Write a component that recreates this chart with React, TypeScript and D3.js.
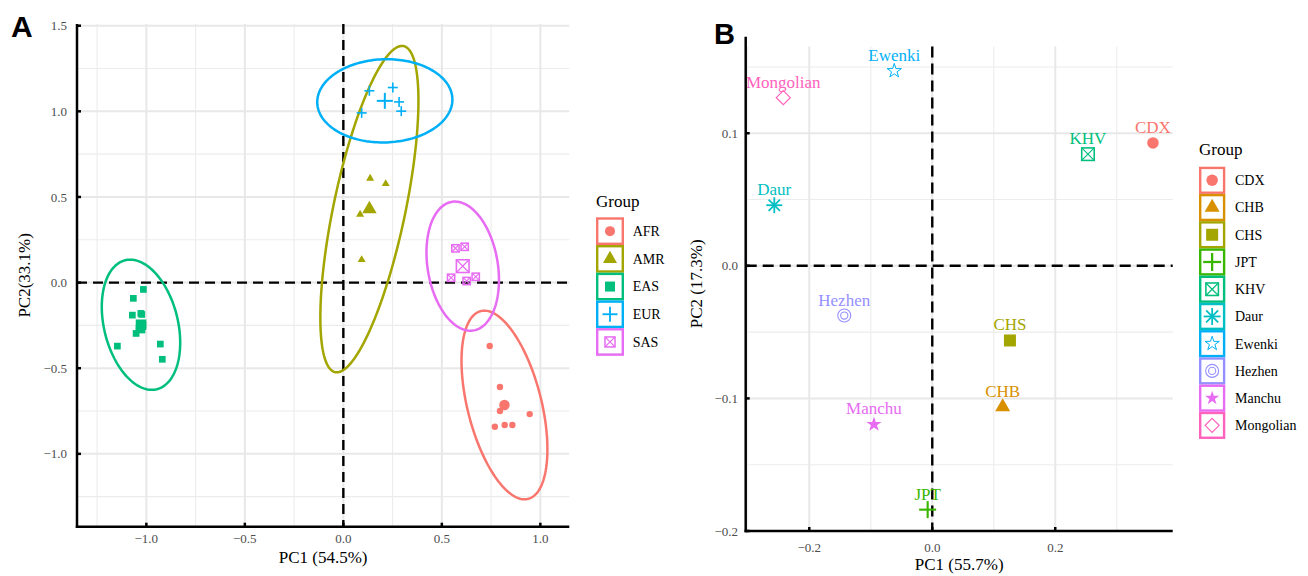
import React from "react";
import * as d3 from "d3";

// ---------- Panel A data ----------
const groupsA = ["AFR", "AMR", "EAS", "EUR", "SAS"];
const colorsA = ["#F8766D", "#A3A500", "#00BF7D", "#00B0F6", "#E76BF3"];
const shapesA = ["circle", "triangle", "square", "plus", "squarecross"];

const afrPoints = [[0.743, -0.37], [0.795, -0.61], [0.795, -0.75], [0.946, -0.768], [0.769, -0.842], [0.819, -0.832], [0.858, -0.832]];
const amrPoints = [[0.136, 0.608], [0.215, 0.577], [0.085, 0.398], [0.093, 0.133]];
const easPoints = [[-1.015, -0.04], [-1.066, -0.092], [-1.071, -0.19], [-1.028, -0.18], [-1.023, -0.186], [-1.052, -0.297], [-1.147, -0.371], [-0.929, -0.359], [-0.919, -0.448], [-1.017, -0.248], [-1.037, -0.266], [-1.022, -0.277]];
const eurPoints = [[0.132, 1.12], [0.251, 1.139], [0.283, 1.055], [0.294, 1.001], [0.093, 0.991]];
const sasPoints = [[0.569, 0.2], [0.616, 0.209], [0.547, 0.028], [0.626, 0.009], [0.672, 0.034]];
const pointsA = [afrPoints, amrPoints, easPoints, eurPoints, sasPoints];

// ellipse spread per group: [sd PC1, sd PC2, correlation]
const ellipseSpreadA = [[0.218, 0.551, -0.468], [0.249, 0.953, 0.664], [0.199, 0.38, -0.275], [0.343, 0.243, 0.03], [0.184, 0.377, -0.212]];

const xTicksA = [-1, -0.5, 0, 0.5, 1];
const yTicksA = [-1, -0.5, 0, 0.5, 1, 1.5];
const xMinorA = [-1.25, -0.75, -0.25, 0.25, 0.75];
const yMinorA = [-1.25, -0.75, -0.25, 0.25, 0.75, 1.25];

// ---------- Panel B data ----------
const popsB = ["CDX", "CHB", "CHS", "JPT", "KHV", "Daur", "Ewenki", "Hezhen", "Manchu", "Mongolian"];
const pc1B = [0.3589, 0.1145, 0.1263, -0.0075, 0.2532, -0.2569, -0.0618, -0.1431, -0.0948, -0.2423];
const pc2B = [0.0927, -0.1065, -0.0563, -0.1839, 0.0842, 0.0457, 0.147, -0.0375, -0.1196, 0.1268];
const colorsB = ["#F8766D", "#D89000", "#A3A500", "#39B600", "#00BF7D", "#00BFC4", "#00B0F6", "#9590FF", "#E76BF3", "#FF62BC"];
const shapesB = ["circle", "triangle", "square", "plus", "squarecross", "asterisk", "staropen", "doublecircle", "starfilled", "diamond"];

const xTicksB = [-0.2, 0, 0.2];
const yTicksB = [-0.2, -0.1, 0, 0.1];
const xMinorB = [-0.3, -0.1, 0.1, 0.3];
const yMinorB = [-0.15, -0.05, 0.05, 0.15];

const SERIF = "'Liberation Serif', 'Times New Roman', serif";
const SANS = "'Liberation Sans', Arial, sans-serif";
const fmt = (v: number, d: number) => (v < -1e-9 ? "\u2212" : "") + Math.abs(v).toFixed(d);

function starPath(R: number) {
  const r = R * 0.382;
  const pts: string[] = [];
  for (let i = 0; i < 10; i++) {
    const a = -Math.PI / 2 + (i * Math.PI) / 5;
    const rr = i % 2 === 0 ? R : r;
    pts.push(`${(rr * Math.cos(a)).toFixed(2)},${(rr * Math.sin(a)).toFixed(2)}`);
  }
  return "M" + pts.join("L") + "Z";
}

function Marker({ shape, x, y, s, color }: any) {
  const t = `translate(${x},${y})`;
  switch (shape) {
    case "circle":
      return <circle cx={x} cy={y} r={s / 2} fill={color} />;
    case "triangle": {
      const h = s / Math.sqrt(3);
      return <path transform={t} d={`M0,${-h}L${s / 2},${h / 2}L${-s / 2},${h / 2}Z`} fill={color} />;
    }
    case "square":
      return <rect x={x - s / 2} y={y - s / 2} width={s} height={s} fill={color} />;
    case "plus":
      return (
        <g transform={t} stroke={color} strokeWidth={Math.max(1.6, s / 8)}>
          <line x1={-s / 2} x2={s / 2} y1={0} y2={0} />
          <line x1={0} x2={0} y1={-s / 2} y2={s / 2} />
        </g>
      );
    case "squarecross":
      return (
        <g transform={t} stroke={color} strokeWidth={Math.max(1.5, s / 8)} fill="none">
          <rect x={-s / 2} y={-s / 2} width={s} height={s} />
          <line x1={-s / 2} y1={-s / 2} x2={s / 2} y2={s / 2} strokeWidth={1.2} />
          <line x1={-s / 2} y1={s / 2} x2={s / 2} y2={-s / 2} strokeWidth={1.2} />
        </g>
      );
    case "asterisk": {
      const a = s / 2;
      const d = a * Math.SQRT1_2;
      return (
        <g transform={t} stroke={color} strokeWidth={1.8}>
          <line x1={-a} x2={a} y1={0} y2={0} />
          <line x1={0} x2={0} y1={-a} y2={a} />
          <line x1={-d} y1={-d} x2={d} y2={d} />
          <line x1={-d} y1={d} x2={d} y2={-d} />
        </g>
      );
    }
    case "staropen":
      return <path transform={t} d={starPath(s / 2)} fill="none" stroke={color} strokeWidth={1} />;
    case "starfilled":
      return <path transform={t} d={starPath(s / 2)} fill={color} />;
    case "doublecircle":
      return (
        <g stroke={color} strokeWidth={1.1} fill="none">
          <circle cx={x} cy={y} r={s / 2} />
          <circle cx={x} cy={y} r={s / 3.6} />
        </g>
      );
    case "diamond": {
      const a = s / 2;
      return <path transform={t} d={`M0,${-a}L${a},0L0,${a}L${-a},0Z`} fill="none" stroke={color} strokeWidth={1.2} />;
    }
  }
  return null;
}

export default function App() {
  // ---------- scales ----------
  const xA = d3.scaleLinear().domain([-1.352, 1.147]).range([77, 569.3]);
  const yA = d3.scaleLinear().domain([-1.4255, 1.51]).range([526.7, 24]);
  const xB = d3.scaleLinear().domain([-0.3034, 0.391]).range([745.7, 1172.7]);
  const yB = d3.scaleLinear().domain([-0.2, 0.1728]).range([531, 36.7]);
  const gridTopB = yB(0.1654);

  const centroids = pointsA.map((pts) => [d3.mean(pts, (p) => p[0]) as number, d3.mean(pts, (p) => p[1]) as number]);

  const ellipsePaths = centroids.map((c, i) => {
    const [sx, sy, rho] = ellipseSpreadA[i];
    const line = d3
      .line<number>()
      .x((t) => xA(c[0] + sx * Math.cos(t)))
      .y((t) => yA(c[1] + rho * sy * Math.cos(t) + sy * Math.sqrt(1 - rho * rho) * Math.sin(t)))
      .curve(d3.curveLinearClosed);
    return line(d3.range(0, 2 * Math.PI, Math.PI / 90));
  });

  const [ax0, ax1] = xA.range();
  const [ay0, ay1] = yA.range();
  const [bx0, bx1] = xB.range();
  const [by0] = yB.range();

  const smallSizeA = [6.4, 8, 6.7, 10, 7.3];
  const bigSizeA = [10.5, 14.5, 10.5, 16, 12.7];
  const legendSizeA = [10, 14, 10, 15, 10];
  const sizeB = [11.5, 15, 12, 17, 12.5, 16, 15, 13, 16, 14];
  const legendSizeB = [11.5, 15, 12, 18, 12.5, 17, 15, 13, 15, 14];

  return (
    <svg width={1308} height={576} style={{ position: "absolute", left: 0, top: 0, background: "#fff" }}>
      <rect width={1308} height={576} fill="#fff" />
      {/* ================= Panel A ================= */}
      <g>
        {xMinorA.map((v) => (
          <line key={"xma" + v} x1={xA(v)} x2={xA(v)} y1={ay1} y2={ay0} stroke="#ececec" strokeWidth={1.1} />
        ))}
        {yMinorA.map((v) => (
          <line key={"yma" + v} x1={ax0} x2={ax1} y1={yA(v)} y2={yA(v)} stroke="#ececec" strokeWidth={1.1} />
        ))}
        {xTicksA.map((v) => (
          <line key={"xga" + v} x1={xA(v)} x2={xA(v)} y1={ay1} y2={ay0} stroke="#e8e8e8" strokeWidth={2} />
        ))}
        {yTicksA.map((v) => (
          <line key={"yga" + v} x1={ax0} x2={ax1} y1={yA(v)} y2={yA(v)} stroke="#e8e8e8" strokeWidth={2} />
        ))}
        <line x1={xA(0)} x2={xA(0)} y1={ay1} y2={ay0} stroke="#000" strokeWidth={2.4} strokeDasharray="10,6" />
        <line x1={ax0} x2={ax1} y1={yA(0)} y2={yA(0)} stroke="#000" strokeWidth={2.4} strokeDasharray="10,6" />
        {ellipsePaths.map((d, i) => (
          <path key={"el" + i} d={d as string} fill="none" stroke={colorsA[i]} strokeWidth={2.5} />
        ))}
        {pointsA.map((pts, i) =>
          pts.map((p, j) => (
            <Marker key={`pa${i}-${j}`} shape={shapesA[i]} x={xA(p[0])} y={yA(p[1])} s={smallSizeA[i]} color={colorsA[i]} />
          ))
        )}
        {centroids.map((c, i) => (
          <Marker key={"ca" + i} shape={shapesA[i]} x={xA(c[0])} y={yA(c[1])} s={bigSizeA[i]} color={colorsA[i]} />
        ))}
        {/* axes */}
        <line x1={ax0} x2={ax0} y1={ay1} y2={ay0 + 1.2} stroke="#000" strokeWidth={2.5} />
        <line x1={ax0 - 1.2} x2={ax1} y1={ay0} y2={ay0} stroke="#000" strokeWidth={2.5} />
        {yTicksA.map((v) => (
          <g key={"yta" + v}>
            <line x1={ax0} x2={ax0 + 4} y1={yA(v)} y2={yA(v)} stroke="#000" strokeWidth={2.5} />
            <text x={67} y={yA(v)} dy="0.35em" textAnchor="end" fontFamily={SERIF} fontSize={13} fill="#4d4d4d">
              {fmt(v, 1)}
            </text>
          </g>
        ))}
        {xTicksA.map((v) => (
          <g key={"xta" + v}>
            <line x1={xA(v)} x2={xA(v)} y1={ay0} y2={ay0 - 4} stroke="#000" strokeWidth={2.5} />
            <text x={xA(v)} y={542.7} textAnchor="middle" fontFamily={SERIF} fontSize={13} fill="#4d4d4d">
              {fmt(v, 1)}
            </text>
          </g>
        ))}
        <text x={(ax0 + ax1) / 2} y={562.5} textAnchor="middle" fontFamily={SERIF} fontSize={17} fill="#000">
          PC1 (54.5%)
        </text>
        <text transform={`translate(30,${(ay0 + ay1) / 2}) rotate(-90)`} textAnchor="middle" fontFamily={SERIF} fontSize={17} fill="#000">
          PC2(33.1%)
        </text>
        <text x={11} y={36.5} fontFamily={SANS} fontWeight="bold" fontSize={30} fill="#000">
          A
        </text>
        {/* legend A */}
        <text x={596} y={207} fontFamily={SERIF} fontSize={17} fill="#000">
          Group
        </text>
        {groupsA.map((g, i) => {
          const top = 217.3 + i * 27.7;
          return (
            <g key={"lga" + g}>
              <rect x={597.2} y={top + 1.2} width={25.6} height={25.3} fill="#fff" stroke={colorsA[i]} strokeWidth={2.4} />
              <Marker shape={shapesA[i]} x={610} y={top + 13.85} s={legendSizeA[i]} color={colorsA[i]} />
              <text x={632.7} y={top + 13.85} dy="0.35em" fontFamily={SERIF} fontSize={14} fill="#000">
                {g}
              </text>
            </g>
          );
        })}
      </g>

      {/* ================= Panel B ================= */}
      <g>
        {xMinorB.map((v) => (
          <line key={"xmb" + v} x1={xB(v)} x2={xB(v)} y1={gridTopB} y2={by0} stroke="#ececec" strokeWidth={1.1} />
        ))}
        {yMinorB.map((v) => (
          <line key={"ymb" + v} x1={bx0} x2={bx1} y1={yB(v)} y2={yB(v)} stroke="#ececec" strokeWidth={1.1} />
        ))}
        {xTicksB.map((v) => (
          <line key={"xgb" + v} x1={xB(v)} x2={xB(v)} y1={gridTopB} y2={by0} stroke="#e8e8e8" strokeWidth={2} />
        ))}
        {yTicksB.map((v) => (
          <line key={"ygb" + v} x1={bx0} x2={bx1} y1={yB(v)} y2={yB(v)} stroke="#e8e8e8" strokeWidth={2} />
        ))}
        <line x1={xB(0)} x2={xB(0)} y1={gridTopB} y2={by0} stroke="#000" strokeWidth={2.4} strokeDasharray="11,6" />
        <line x1={bx0} x2={bx1} y1={yB(0)} y2={yB(0)} stroke="#000" strokeWidth={2.4} strokeDasharray="11,6" />
        {popsB.map((p, i) => (
          <g key={"pb" + p}>
            <Marker shape={shapesB[i]} x={xB(pc1B[i])} y={yB(pc2B[i])} s={sizeB[i]} color={colorsB[i]} />
            <text x={xB(pc1B[i])} y={yB(pc2B[i]) - 10} textAnchor="middle" fontFamily={SERIF} fontSize={17} fill={colorsB[i]}>
              {p}
            </text>
          </g>
        ))}
        <line x1={bx0} x2={bx0} y1={36.7} y2={by0 + 1.2} stroke="#000" strokeWidth={2.5} />
        <line x1={bx0 - 1.2} x2={bx1} y1={by0} y2={by0} stroke="#000" strokeWidth={2.5} />
        {yTicksB.map((v) => (
          <g key={"ytb" + v}>
            <line x1={bx0} x2={bx0 + 4} y1={yB(v)} y2={yB(v)} stroke="#000" strokeWidth={2.5} />
            <text x={738} y={yB(v)} dy="0.35em" textAnchor="end" fontFamily={SERIF} fontSize={13} fill="#4d4d4d">
              {fmt(v, 1)}
            </text>
          </g>
        ))}
        {xTicksB.map((v) => (
          <g key={"xtb" + v}>
            <line x1={xB(v)} x2={xB(v)} y1={by0} y2={by0 - 4} stroke="#000" strokeWidth={2.5} />
            <text x={xB(v)} y={551.5} textAnchor="middle" fontFamily={SERIF} fontSize={13} fill="#4d4d4d">
              {fmt(v, 1)}
            </text>
          </g>
        ))}
        <text x={(bx0 + bx1) / 2} y={570} textAnchor="middle" fontFamily={SERIF} fontSize={17} fill="#000">
          PC1 (55.7%)
        </text>
        <text transform={`translate(702,${(by0 + 36.7) / 2}) rotate(-90)`} textAnchor="middle" fontFamily={SERIF} fontSize={17} fill="#000">
          PC2 (17.3%)
        </text>
        <text x={714} y={43.5} fontFamily={SANS} fontWeight="bold" fontSize={29} fill="#000">
          B
        </text>
        {/* legend B */}
        <text x={1199} y={155} fontFamily={SERIF} fontSize={17} fill="#000">
          Group
        </text>
        {popsB.map((g, i) => {
          const top = 166.7 + i * 27.23;
          return (
            <g key={"lgb" + g}>
              <rect x={1200.2} y={top + 1.2} width={23.9} height={24.8} fill="#fff" stroke={colorsB[i]} strokeWidth={2.4} />
              <Marker shape={shapesB[i]} x={1212.15} y={top + 13.6} s={legendSizeB[i]} color={colorsB[i]} />
              <text x={1235} y={top + 13.6} dy="0.35em" fontFamily={SERIF} fontSize={14} fill="#000">
                {g}
              </text>
            </g>
          );
        })}
      </g>
    </svg>
  );
}
